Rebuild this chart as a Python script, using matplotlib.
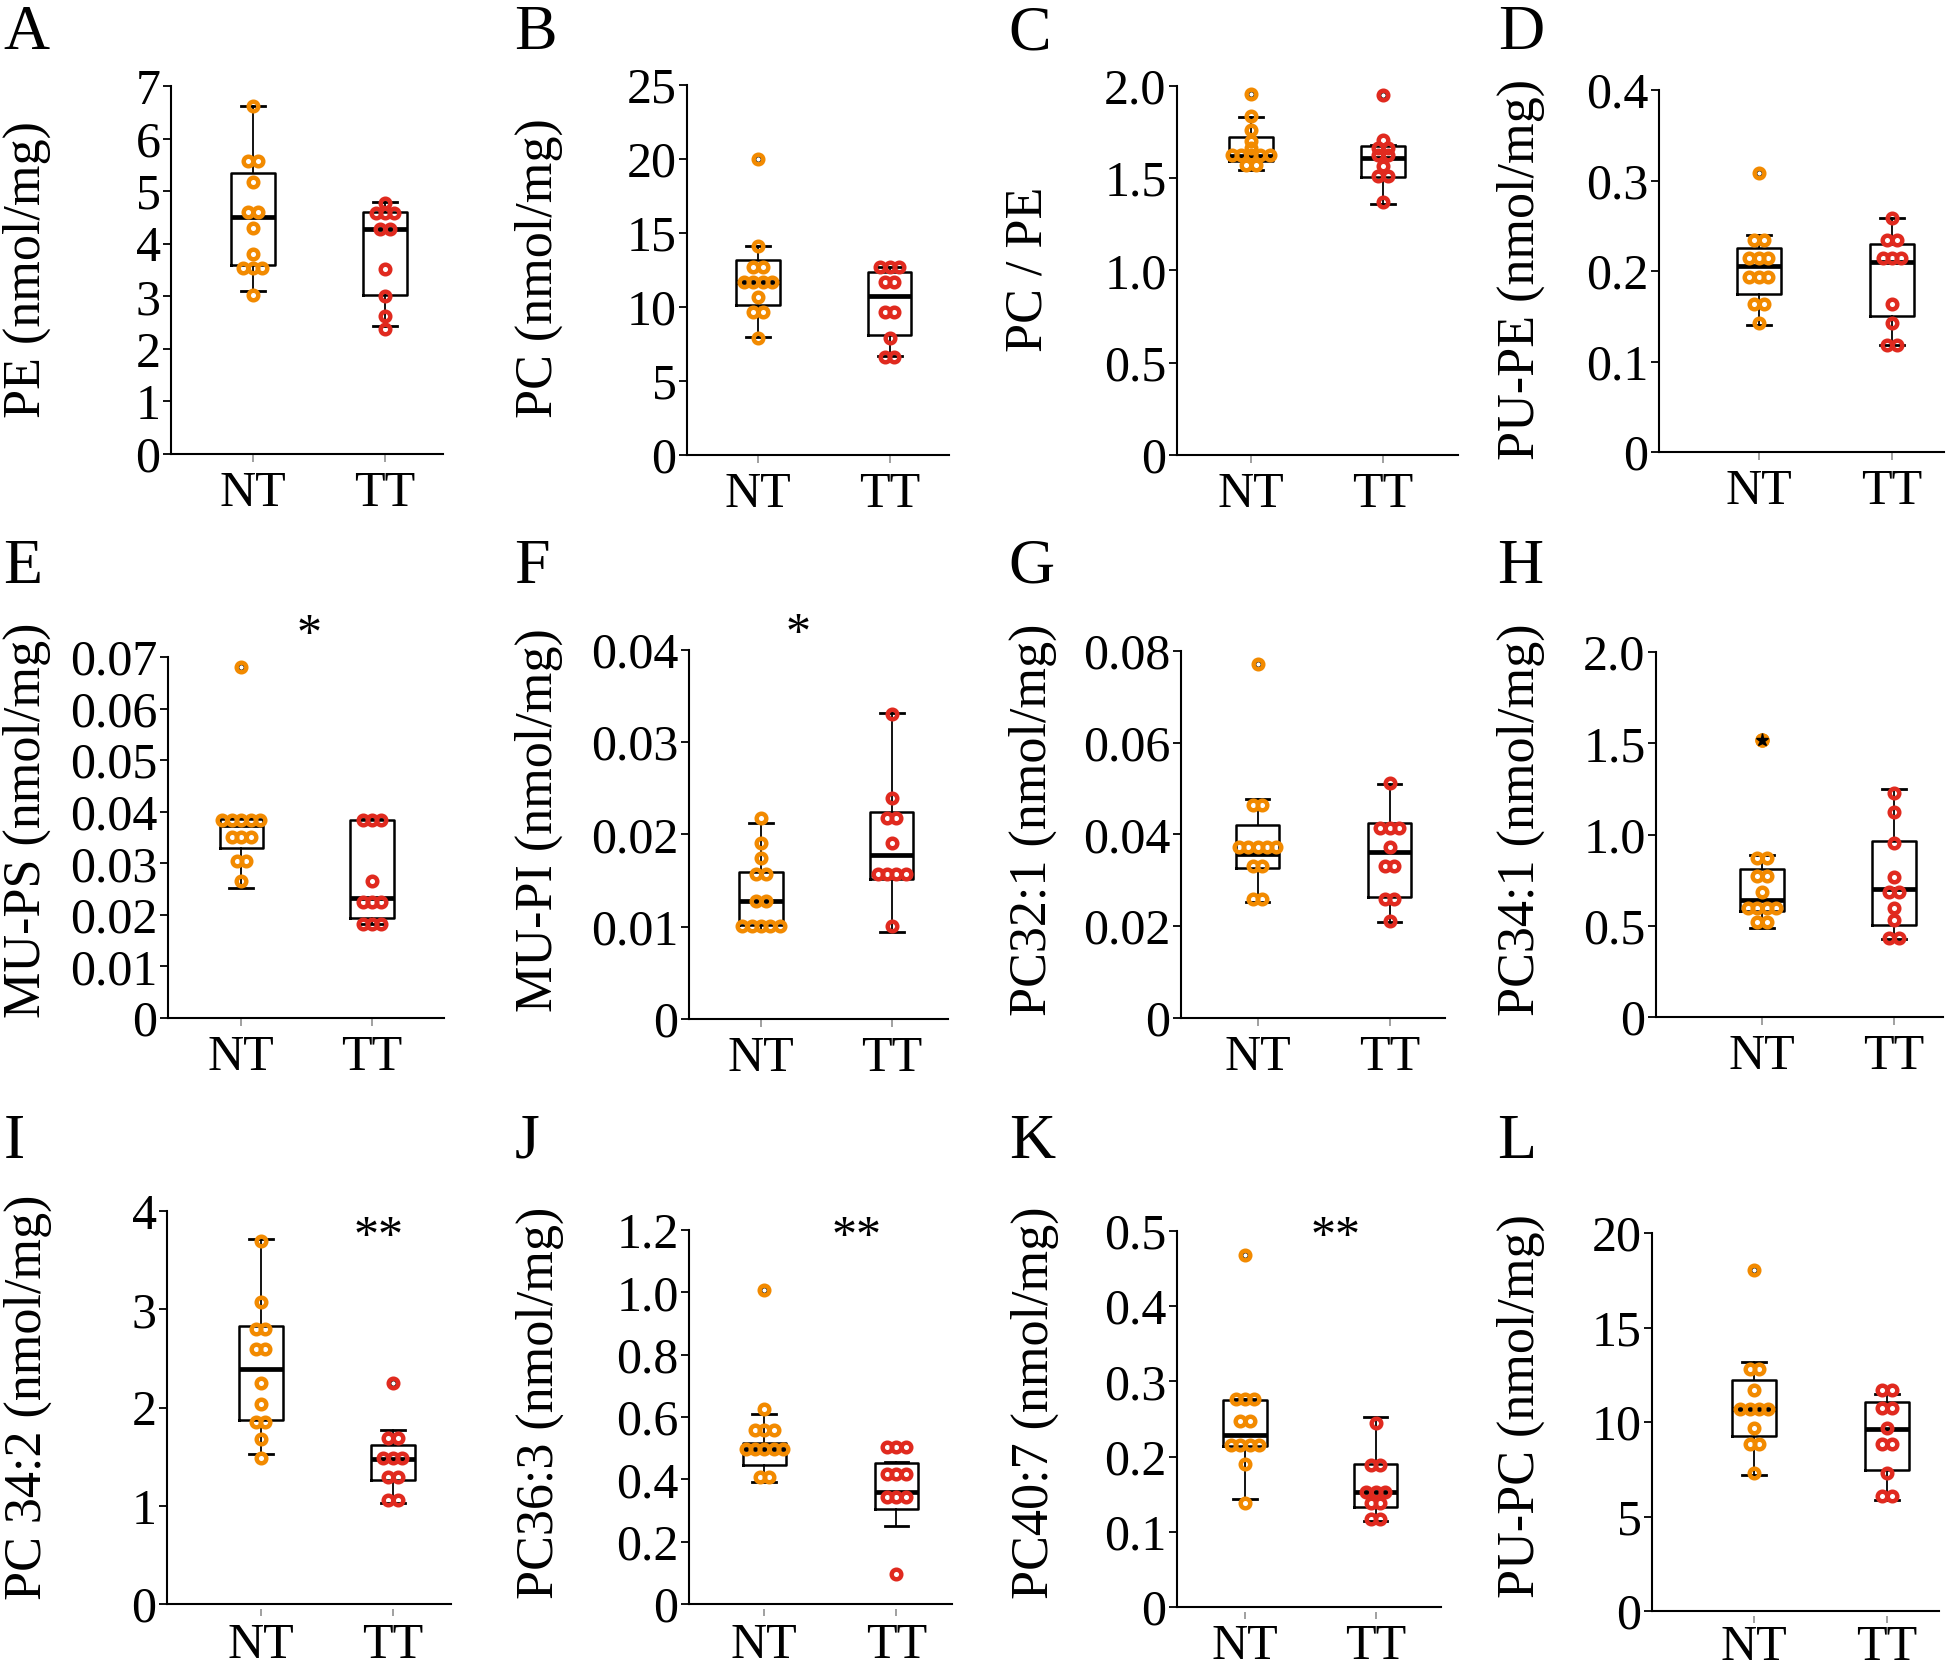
import matplotlib
matplotlib.use("Agg")
import matplotlib.pyplot as plt
import matplotlib.transforms as mtrans
import numpy as np

plt.rcParams['font.family'] = ['Liberation Serif', 'DejaVu Serif']

# ---------------- data ----------------
groups = ["NT", "TT"]
panel_letters = ["A", "B", "C", "D", "E", "F", "G", "H", "I", "J", "K", "L"]
ylabels = ["PE (nmol/mg)", "PC (nmol/mg)", "PC / PE", "PU-PE (nmol/mg)",
           "MU-PS (nmol/mg)", "MU-PI (nmol/mg)", "PC32:1 (nmol/mg)", "PC34:1 (nmol/mg)",
           "PC 34:2 (nmol/mg)", "PC36:3 (nmol/mg)", "PC40:7 (nmol/mg)", "PU-PC (nmol/mg)"]
signif = ["", "", "", "", "*", "*", "", "", "**", "**", "**", ""]

# y ticks and tick labels
A_ticks = [0, 1, 2, 3, 4, 5, 6, 7]
A_ticklabels = ["0", "1", "2", "3", "4", "5", "6", "7"]
B_ticks = [0, 5, 10, 15, 20, 25]
B_ticklabels = ["0", "5", "10", "15", "20", "25"]
C_ticks = [0, 0.5, 1.0, 1.5, 2.0]
C_ticklabels = ["0", "0.5", "1.0", "1.5", "2.0"]
D_ticks = [0, 0.1, 0.2, 0.3, 0.4]
D_ticklabels = ["0", "0.1", "0.2", "0.3", "0.4"]
E_ticks = [0, 0.01, 0.02, 0.03, 0.04, 0.05, 0.06, 0.07]
E_ticklabels = ["0", "0.01", "0.02", "0.03", "0.04", "0.05", "0.06", "0.07"]
F_ticks = [0, 0.01, 0.02, 0.03, 0.04]
F_ticklabels = ["0", "0.01", "0.02", "0.03", "0.04"]
G_ticks = [0, 0.02, 0.04, 0.06, 0.08]
G_ticklabels = ["0", "0.02", "0.04", "0.06", "0.08"]
H_ticks = [0, 0.5, 1.0, 1.5, 2.0]
H_ticklabels = ["0", "0.5", "1.0", "1.5", "2.0"]
I_ticks = [0, 1, 2, 3, 4]
I_ticklabels = ["0", "1", "2", "3", "4"]
J_ticks = [0, 0.2, 0.4, 0.6, 0.8, 1.0, 1.2]
J_ticklabels = ["0", "0.2", "0.4", "0.6", "0.8", "1.0", "1.2"]
K_ticks = [0, 0.1, 0.2, 0.3, 0.4, 0.5]
K_ticklabels = ["0", "0.1", "0.2", "0.3", "0.4", "0.5"]
L_ticks = [0, 5, 10, 15, 20]
L_ticklabels = ["0", "5", "10", "15", "20"]

# individual points
A_NT = [6.62, 5.57, 5.57, 5.18, 4.61, 4.61, 4.30, 3.80, 3.53, 3.53, 3.53, 3.03]
A_TT = [4.78, 4.59, 4.59, 4.59, 4.28, 4.28, 3.51, 3.01, 2.63, 2.38]
B_NT = [20.0, 14.1, 12.7, 12.7, 11.7, 11.7, 11.7, 11.7, 10.65, 9.65, 9.65, 7.9]
B_TT = [12.7, 12.7, 12.7, 11.7, 11.7, 9.65, 9.65, 7.9, 6.65, 6.65]
C_NT = [1.955, 1.84, 1.76, 1.70, 1.665, 1.625, 1.625, 1.625, 1.625, 1.625, 1.57, 1.57]
C_TT = [1.95, 1.705, 1.665, 1.665, 1.625, 1.625, 1.565, 1.51, 1.51, 1.372]
D_NT = [0.308, 0.234, 0.234, 0.214, 0.214, 0.214, 0.193, 0.193, 0.193, 0.163, 0.163, 0.143]
D_TT = [0.259, 0.234, 0.234, 0.214, 0.214, 0.214, 0.163, 0.143, 0.118, 0.118]
E_NT = [0.0681, 0.0384, 0.0384, 0.0384, 0.0384, 0.0384, 0.0351, 0.0351, 0.0351,
        0.0304, 0.0304, 0.0265]
E_TT = [0.0384, 0.0384, 0.0384, 0.0265, 0.0224, 0.0224, 0.0224, 0.0182, 0.0182, 0.0182]
F_NT = [0.0218, 0.0191, 0.0174, 0.0157, 0.0157, 0.0128, 0.0128, 0.0101, 0.0101,
        0.0101, 0.0101, 0.0101]
F_TT = [0.0331, 0.0240, 0.0218, 0.0218, 0.0191, 0.0157, 0.0157, 0.0157, 0.0157, 0.0101]
G_NT = [0.0771, 0.0465, 0.0465, 0.0373, 0.0373, 0.0373, 0.0373, 0.0373, 0.0332,
        0.0332, 0.0259, 0.0259]
G_TT = [0.0512, 0.0415, 0.0415, 0.0415, 0.0372, 0.0332, 0.0332, 0.0259, 0.0259, 0.0212]
H_NT = [1.517, 0.869, 0.869, 0.774, 0.774, 0.686, 0.599, 0.599, 0.599, 0.599, 0.523, 0.523]
H_TT = [1.228, 1.124, 0.954, 0.769, 0.686, 0.686, 0.599, 0.529, 0.434, 0.434]
I_NT = [3.69, 3.075, 2.80, 2.80, 2.60, 2.60, 2.245, 2.04, 1.857, 1.857, 1.68, 1.49]
I_TT = [2.245, 1.687, 1.687, 1.483, 1.483, 1.483, 1.294, 1.294, 1.057, 1.057]
J_NT = [1.007, 0.626, 0.557, 0.557, 0.557, 0.497, 0.497, 0.497, 0.497, 0.497, 0.408, 0.408]
J_TT = [0.504, 0.504, 0.504, 0.417, 0.417, 0.417, 0.343, 0.343, 0.343, 0.095]
K_NT = [0.468, 0.277, 0.277, 0.277, 0.247, 0.247, 0.216, 0.216, 0.216, 0.216, 0.190, 0.138]
K_TT = [0.245, 0.189, 0.189, 0.153, 0.153, 0.153, 0.138, 0.138, 0.117, 0.117]
L_NT = [18.05, 12.78, 12.78, 11.67, 10.69, 10.69, 10.69, 10.69, 9.66, 8.82, 8.82, 7.32]
L_TT = [11.71, 11.71, 10.73, 10.73, 9.66, 8.82, 8.82, 7.32, 6.09, 6.09]

# box statistics: [whisker low, Q1, median, Q3, whisker high]
A_box_NT = [3.10, 3.60, 4.51, 5.35, 6.62]
A_box_TT = [2.43, 3.03, 4.28, 4.60, 4.79]
B_box_NT = [7.97, 10.14, 11.67, 13.2, 14.1]
B_box_TT = [6.67, 8.08, 10.75, 12.35, 12.72]
C_box_NT = [1.546, 1.595, 1.62, 1.725, 1.83]
C_box_TT = [1.359, 1.505, 1.612, 1.674, 1.68]
D_box_NT = [0.140, 0.175, 0.206, 0.225, 0.240]
D_box_TT = [0.118, 0.150, 0.210, 0.230, 0.259]
E_box_NT = [0.0253, 0.0330, 0.0374, 0.0385, 0.0388]
E_box_TT = [0.0182, 0.0193, 0.0233, 0.0384, 0.0385]
F_box_NT = [0.0096, 0.0102, 0.0128, 0.0159, 0.0212]
F_box_TT = [0.0094, 0.0152, 0.0178, 0.0224, 0.0332]
G_box_NT = [0.0253, 0.0328, 0.0358, 0.0420, 0.0477]
G_box_TT = [0.0210, 0.0263, 0.0362, 0.0424, 0.0511]
H_box_NT = [0.485, 0.582, 0.642, 0.812, 0.888]
H_box_TT = [0.425, 0.506, 0.703, 0.963, 1.250]
I_box_NT = [1.53, 1.868, 2.39, 2.83, 3.72]
I_box_TT = [1.03, 1.264, 1.472, 1.623, 1.774]
J_box_NT = [0.393, 0.445, 0.497, 0.516, 0.610]
J_box_TT = [0.250, 0.304, 0.358, 0.453, 0.455]
K_box_NT = [0.143, 0.214, 0.229, 0.275, 0.277]
K_box_TT = [0.115, 0.133, 0.153, 0.190, 0.253]
L_box_NT = [7.22, 9.27, 10.69, 12.2, 13.17]
L_box_TT = [5.89, 7.45, 9.62, 11.06, 11.47]

# outliers flagged by the box plot
A_out_NT, A_out_TT = [], []
B_out_NT, B_out_TT = [20.0], []
C_out_NT, C_out_TT = [1.955], [1.95]
D_out_NT, D_out_TT = [0.308], []
E_out_NT, E_out_TT = [0.0681], []
F_out_NT, F_out_TT = [], []
G_out_NT, G_out_TT = [0.0771], []
H_out_NT, H_out_TT = [], []
H_extreme_NT = [1.517]
I_out_NT, I_out_TT = [], [2.245]
J_out_NT, J_out_TT = [1.007], []
K_out_NT, K_out_TT = [0.468], []
L_out_NT, L_out_TT = [18.05], []

g = globals()

# ---------------- layout (pixels in the 1946x1672 figure) ----------------
W, H = 1946, 1672
# x0, x1, y_top, y_zero, xlim_lo, xlim_hi
layout = {
    "A": (171, 443, 86, 454, 0.38, 2.44),
    "B": (687, 949, 85, 455, 0.46, 2.45),
    "C": (1177, 1458, 86, 455, 0.44, 2.57),
    "D": (1659, 1944, 90, 452, 0.25, 2.39),
    "E": (168, 444, 657, 1018, 0.44, 2.55),
    "F": (689, 948, 650, 1019, 0.45, 2.43),
    "G": (1181, 1445, 651, 1018, 0.42, 2.42),
    "H": (1656, 1943, 652, 1017, 0.20, 2.37),
    "I": (167, 451, 1211, 1604, 0.29, 2.44),
    "J": (689, 952, 1230, 1604, 0.43, 2.42),
    "K": (1177, 1441, 1231, 1607, 0.48, 2.50),
    "L": (1652, 1939, 1233, 1611, 0.23, 2.39),
}
xlabel_pad = {"I": 13, "J": 13, "K": 12, "L": 10}
ylabel_pos = {"A": (27, 270), "B": (539, 268), "C": (1028, 269), "D": (1521, 270),
              "E": (27, 820), "F": (539, 820), "G": (1033, 820), "H": (1521, 820),
              "I": (28, 1397), "J": (540, 1403), "K": (1035, 1403), "L": (1521, 1406)}
letter_pos = {"A": (3, 49), "B": (514, 49), "C": (1008, 49), "D": (1498, 49),
              "E": (3, 583), "F": (514, 583), "G": (1008, 583), "H": (1497, 583),
              "I": (4, 1158), "J": (515, 1158), "K": (1009, 1158), "L": (1497, 1158)}
sig_pos = {"E": (309, 648), "F": (798, 647), "I": (379, 1250), "J": (857, 1250),
           "K": (1336, 1250)}

colors = {"NT": "#F28A00", "TT": "#E02A1F"}
FS = 36

fig = plt.figure(figsize=(W / 100, H / 100), dpi=100)


def swarm_offsets(vals, step):
    vals = np.asarray(vals)
    offs = np.zeros(len(vals))
    for v in np.unique(vals):
        idx = np.where(vals == v)[0]
        n = len(idx)
        offs[idx] = (np.arange(n) - (n - 1) / 2.0) * step
    return offs


for i, L in enumerate(panel_letters):
    x0, x1, yt, yz, xl0, xl1 = layout[L]
    ax = fig.add_axes([x0 / W, 1 - yz / H, (x1 - x0) / W, (yz - yt) / H])
    ticks = g[L + "_ticks"]
    ax.set_ylim(0, ticks[-1])
    ax.set_xlim(xl0, xl1)
    px_per_unit = (x1 - x0) / (xl1 - xl0)

    stats = []
    for grp in groups:
        b = g[f"{L}_box_{grp}"]
        stats.append(dict(whislo=b[0], q1=b[1], med=b[2], q3=b[3], whishi=b[4], fliers=[]))
    ax.bxp(stats, positions=[1, 2], widths=0.33, capwidths=0.18, showfliers=False,
           patch_artist=False,
           boxprops=dict(color="black", linewidth=1.8),
           whiskerprops=dict(color="black", linewidth=1.3),
           capprops=dict(color="black", linewidth=2.0),
           medianprops=dict(color="black", linewidth=3.4),
           manage_ticks=False, zorder=2)

    for k, grp in enumerate(groups):
        pos = k + 1
        out = g[f"{L}_out_{grp}"]
        if out:
            ax.plot([pos] * len(out), out, linestyle="none", marker="o", ms=4.6,
                    mfc="none", mec="black", mew=1.5, zorder=2.5)
        vals = g[f"{L}_{grp}"]
        xs = pos + swarm_offsets(vals, 9.4 / px_per_unit)
        ax.plot(xs, vals, linestyle="none", marker="o", ms=6.9, mfc="none",
                mec=colors[grp], mew=3.2, zorder=3)
    if L == "H":
        ax.plot([1] * len(H_extreme_NT), H_extreme_NT, linestyle="none", marker="o",
                ms=9.5, mfc=colors["NT"], mec=colors["NT"], zorder=3)
        ax.plot([1] * len(H_extreme_NT), H_extreme_NT, linestyle="none", marker="*",
                ms=9.5, mfc="black", mec="black", zorder=4)

    ax.set_yticks(ticks)
    ax.set_yticklabels(g[L + "_ticklabels"])
    ax.set_xticks([1, 2])
    ax.set_xticklabels(groups)
    for s in ["top", "right"]:
        ax.spines[s].set_visible(False)
    for s in ["left", "bottom"]:
        ax.spines[s].set_linewidth(1.5)
    ax.tick_params(axis="y", direction="out", length=6, width=1.3, pad=1.5,
                   labelsize=FS)
    if L in xlabel_pad:
        ax.tick_params(axis="x", length=0, pad=xlabel_pad[L], labelsize=FS)
        hpx = yz - yt
        tr = mtrans.blended_transform_factory(ax.transData, ax.transAxes)
        ax.vlines([1, 2], -12.0 / hpx, -5.0 / hpx, colors="#999999", linewidth=1.3,
                  transform=tr, clip_on=False)
    else:
        ax.tick_params(axis="x", direction="out", length=6, width=1.3, color="#999999",
                       pad=6, labelsize=FS)
    ax.patch.set_alpha(0)

    lx, ly = ylabel_pos[L]
    fig.text(lx / W, 1 - ly / H, ylabels[i], rotation=90, ha="center", va="center",
             fontsize=37.5)
    px, py = letter_pos[L]
    fig.text(px / W, 1 - py / H, L, ha="left", va="baseline", fontsize=46)
    if signif[i]:
        sx, sy = sig_pos[L]
        fig.text(sx / W, 1 - sy / H, signif[i], ha="center", va="baseline",
                 fontsize=FS)

fig.savefig("out.png", dpi=100)
